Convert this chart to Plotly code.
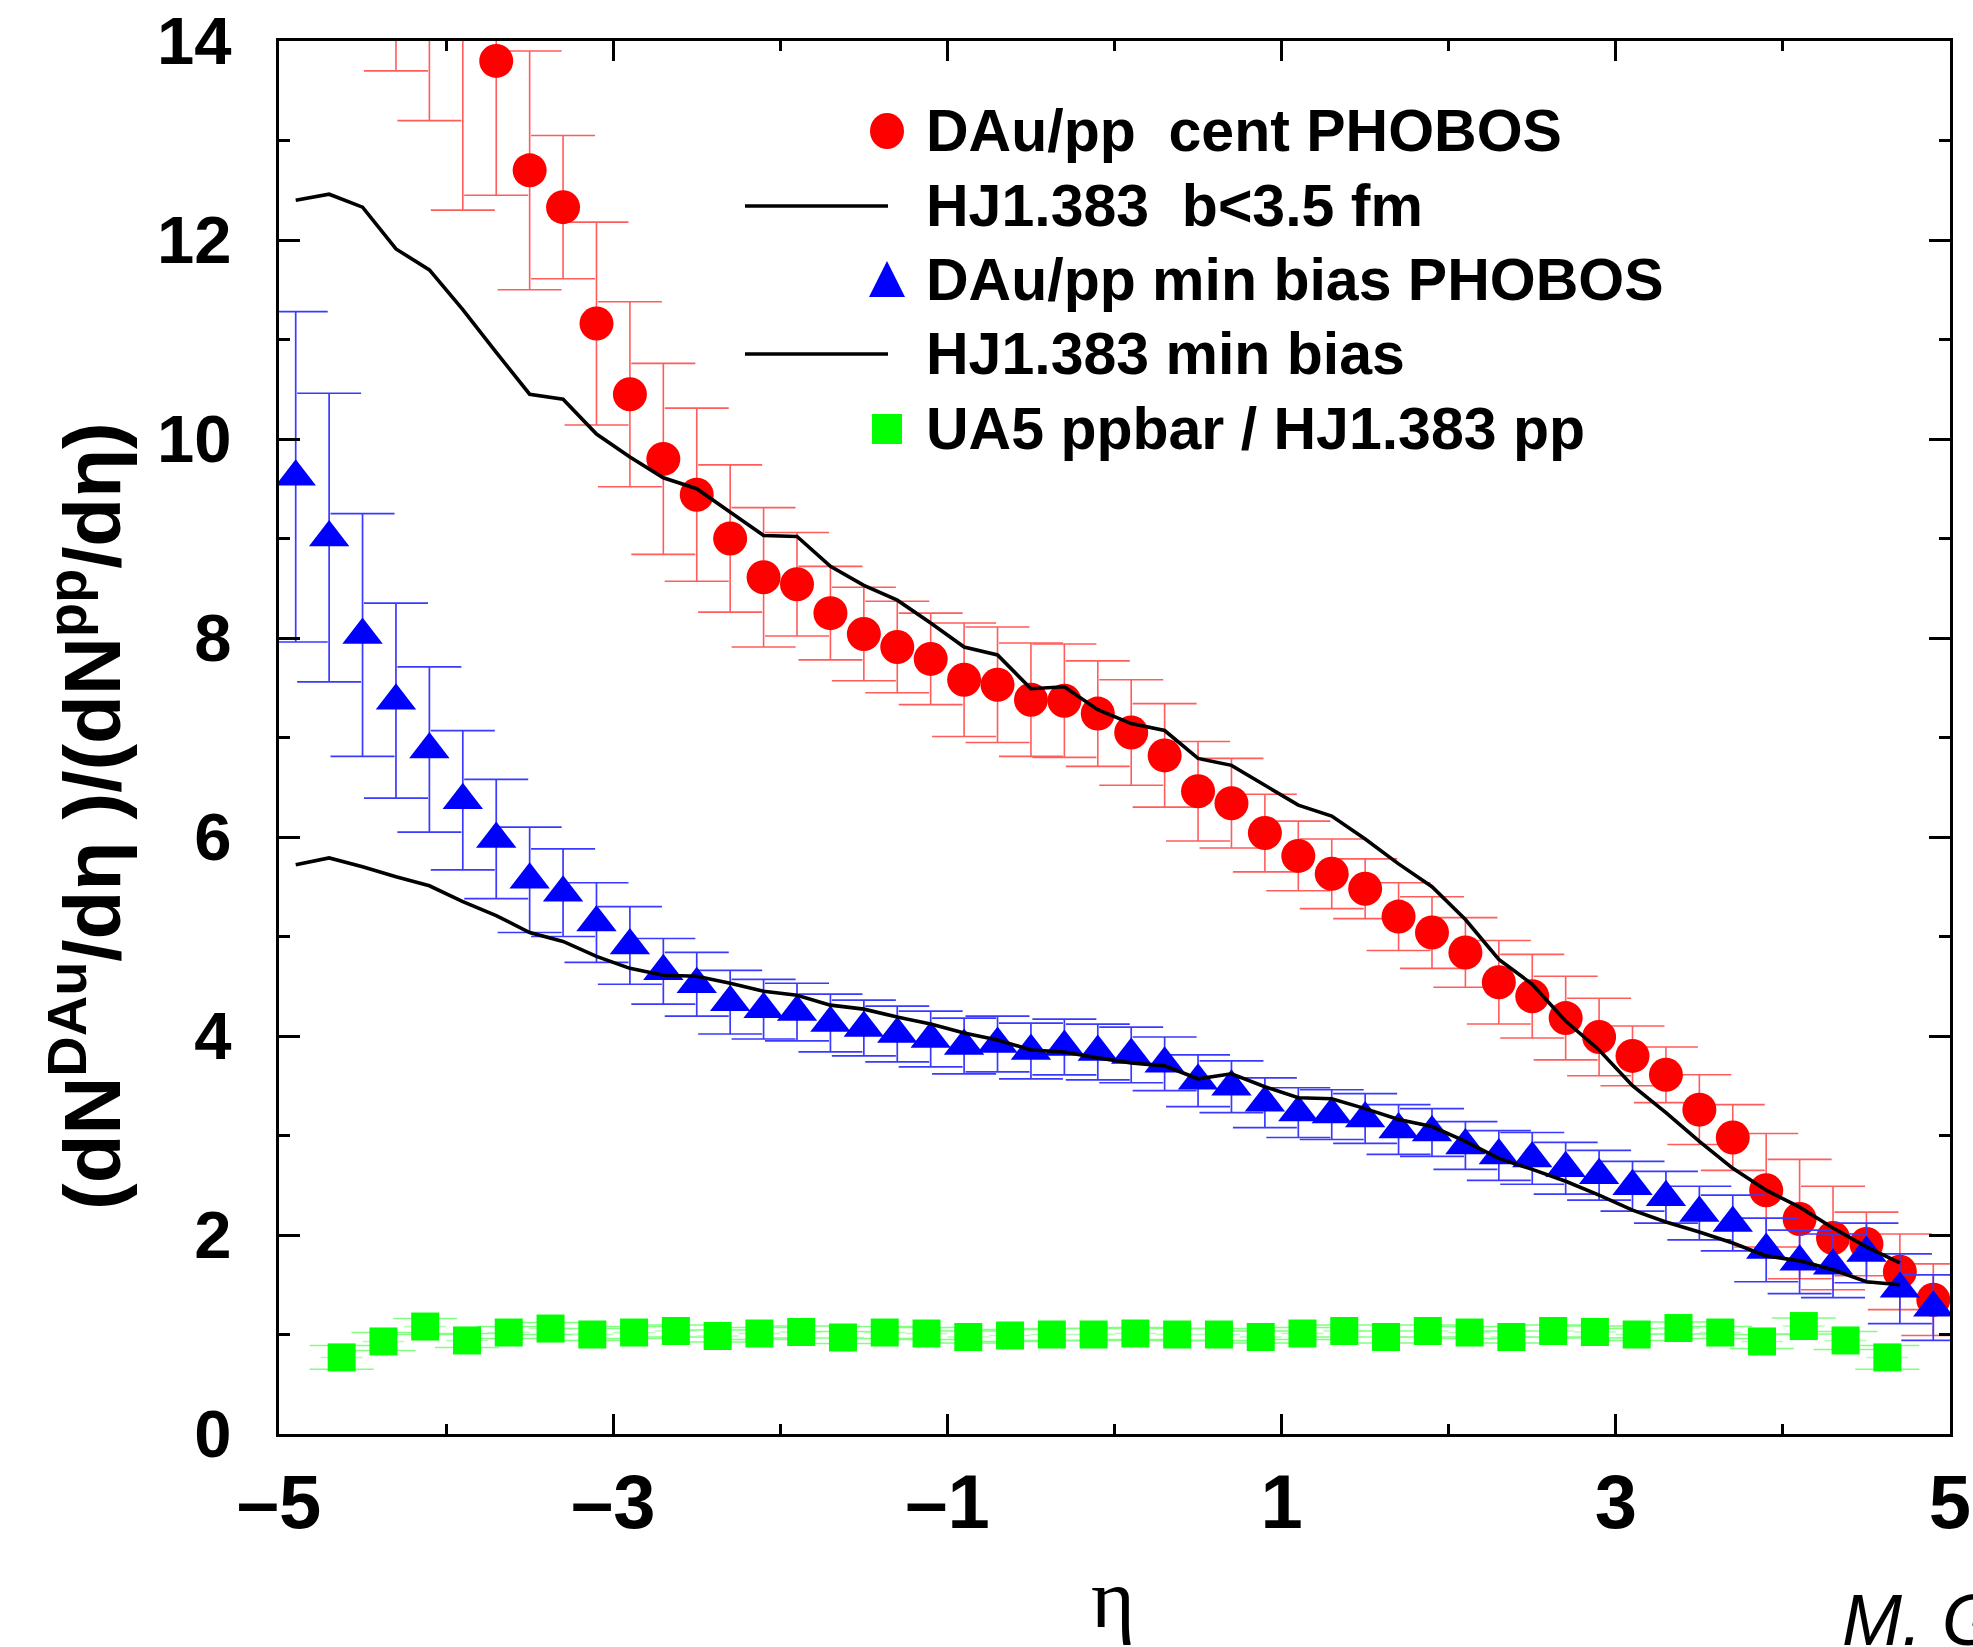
import plotly.graph_objects as go

# ---------------- data ----------------
# PHOBOS pseudorapidity bins
eta_phobos = [-4.9, -4.7, -4.5, -4.3, -4.1, -3.9, -3.7, -3.5, -3.3, -3.1,
              -2.9, -2.7, -2.5, -2.3, -2.1, -1.9, -1.7, -1.5, -1.3, -1.1,
              -0.9, -0.7, -0.5, -0.3, -0.1, 0.1, 0.3, 0.5, 0.7, 0.9,
              1.1, 1.3, 1.5, 1.7, 1.9, 2.1, 2.3, 2.5, 2.7, 2.9,
              3.1, 3.3, 3.5, 3.7, 3.9, 4.1, 4.3, 4.5, 4.7, 4.9]

# central d+Au / pp ratio
dau_cent = [17.6, 17.0, 16.3, 15.3, 14.7, 14.4, 13.80, 12.70, 12.33, 11.16,
            10.45, 9.80, 9.44, 9.00, 8.61, 8.54, 8.25, 8.04, 7.91, 7.79,
            7.58, 7.53, 7.38, 7.37, 7.24, 7.05, 6.82, 6.46, 6.34, 6.04,
            5.81, 5.63, 5.48, 5.20, 5.04, 4.84, 4.54, 4.40, 4.18, 3.99,
            3.80, 3.61, 3.26, 2.98, 2.45, 2.16, 1.97, 1.91, 1.63, 1.35]
dau_cent_err = [1.9, 1.8, 1.7, 1.6, 1.5, 2.1, 1.35, 1.20, 0.72, 1.02,
                0.93, 0.96, 0.87, 0.74, 0.70, 0.52, 0.47, 0.47, 0.46, 0.46,
                0.57, 0.58, 0.57, 0.57, 0.53, 0.53, 0.52, 0.50, 0.45, 0.39,
                0.35, 0.35, 0.30, 0.34, 0.36, 0.35, 0.42, 0.42, 0.42, 0.39,
                0.30, 0.28, 0.35, 0.33, 0.57, 0.60, 0.52, 0.32, 0.38, 0.36]

# minimum-bias d+Au / pp ratio
dau_mb = [9.62, 9.01, 8.03, 7.37, 6.88, 6.37, 5.98, 5.57, 5.44, 5.14,
          4.91, 4.65, 4.52, 4.34, 4.27, 4.24, 4.13, 4.08, 4.02, 3.97,
          3.90, 3.92, 3.85, 3.89, 3.84, 3.81, 3.72, 3.55, 3.49, 3.33,
          3.23, 3.21, 3.17, 3.06, 3.03, 2.90, 2.80, 2.77, 2.67, 2.60,
          2.49, 2.38, 2.22, 2.12, 1.85, 1.73, 1.69, 1.82, 1.46, 1.27]
dau_mb_err = [1.66, 1.45, 1.22, 0.98, 0.83, 0.70, 0.60, 0.53, 0.44, 0.40,
              0.39, 0.33, 0.32, 0.32, 0.30, 0.29, 0.29, 0.28, 0.28, 0.28,
              0.28, 0.28, 0.28, 0.28, 0.28, 0.28, 0.27, 0.26, 0.26, 0.25,
              0.25, 0.25, 0.25, 0.25, 0.24, 0.24, 0.25, 0.26, 0.26, 0.25,
              0.25, 0.26, 0.27, 0.28, 0.32, 0.32, 0.32, 0.30, 0.35, 0.33]

# HIJING 1.383 curves
eta_hj = [-4.9, -4.7, -4.5, -4.3, -4.1, -3.9, -3.7, -3.5, -3.3, -3.1,
          -2.9, -2.7, -2.5, -2.3, -2.1, -1.9, -1.7, -1.5, -1.3, -1.1,
          -0.9, -0.7, -0.5, -0.3, -0.1, 0.1, 0.3, 0.5, 0.7, 0.9,
          1.1, 1.3, 1.5, 1.7, 1.9, 2.1, 2.3, 2.5, 2.7, 2.9,
          3.1, 3.3, 3.5, 3.7, 3.9, 4.1, 4.3, 4.5, 4.7]
hj_central = [12.40, 12.46, 12.33, 11.91, 11.70, 11.30, 10.87, 10.45, 10.40, 10.05,
              9.82, 9.61, 9.50, 9.27, 9.03, 9.02, 8.72, 8.53, 8.38, 8.15,
              7.91, 7.83, 7.49, 7.51, 7.28, 7.14, 7.07, 6.79, 6.72, 6.52,
              6.32, 6.21, 5.98, 5.73, 5.50, 5.17, 4.77, 4.52, 4.15, 3.86,
              3.50, 3.23, 2.94, 2.67, 2.45, 2.28, 2.07, 1.88, 1.72]
hj_minbias = [5.72, 5.79, 5.70, 5.60, 5.51, 5.35, 5.21, 5.04, 4.95, 4.80,
              4.68, 4.61, 4.60, 4.53, 4.45, 4.41, 4.31, 4.27, 4.19, 4.12,
              4.03, 3.96, 3.86, 3.84, 3.78, 3.73, 3.70, 3.57, 3.62, 3.49,
              3.38, 3.37, 3.27, 3.16, 3.09, 2.94, 2.77, 2.66, 2.54, 2.40,
              2.25, 2.13, 2.03, 1.92, 1.79, 1.74, 1.65, 1.53, 1.50]

# UA5 ppbar / HIJING pp (bins of width 0.25)
eta_ua5 = [-4.625, -4.375, -4.125, -3.875, -3.625, -3.375, -3.125, -2.875, -2.625, -2.375,
           -2.125, -1.875, -1.625, -1.375, -1.125, -0.875, -0.625, -0.375, -0.125,
           0.125, 0.375, 0.625, 0.875, 1.125, 1.375, 1.625, 1.875, 2.125, 2.375,
           2.625, 2.875, 3.125, 3.375, 3.625, 3.875, 4.125, 4.375, 4.625]
ua5_ratio = [0.77, 0.93, 1.08, 0.94, 1.02, 1.06, 1.00, 1.02, 1.035, 0.985,
             1.01, 1.025, 0.97, 1.02, 1.01, 0.975, 0.99, 1.00, 1.00,
             1.01, 1.00, 1.00, 0.975, 1.01, 1.035, 0.975, 1.035, 1.02, 0.975,
             1.035, 1.025, 1.00, 1.065, 1.02, 0.93, 1.085, 0.94, 0.77]
ua5_err = [0.12, 0.09, 0.08, 0.07, 0.06, 0.06, 0.06, 0.06, 0.06, 0.06,
           0.06, 0.06, 0.06, 0.06, 0.06, 0.06, 0.06, 0.06, 0.06,
           0.06, 0.06, 0.06, 0.06, 0.06, 0.06, 0.06, 0.06, 0.06, 0.06,
           0.06, 0.06, 0.06, 0.06, 0.06, 0.07, 0.08, 0.09, 0.12]
ua5_halfbin = [0.125] * len(eta_ua5)

# axis ticks
x_major = [-5, -3, -1, 1, 3, 5]
x_labels = ["\u20135", "\u20133", "\u20131", "1", "3", "5"]
x_minor = [-4, -2, 0, 2, 4]
y_major = [0, 2, 4, 6, 8, 10, 12, 14]
y_minor = [1, 3, 5, 7, 9, 11, 13]

legend_labels = ["DAu/pp\u00a0 cent PHOBOS",
                 "HJ1.383\u00a0 b&lt;3.5 fm",
                 "DAu/pp min bias PHOBOS",
                 "HJ1.383 min bias",
                 "UA5 ppbar / HJ1.383 pp"]

# ---------------- layout geometry (pixels) ----------------
W, H = 1973, 1647
L, R, T, B = 279, 1950, 41, 1434

def fx(p):
    return (p - L) / (R - L)

def fy(p):
    return (B - p) / (B - T)

SANS = "Liberation Sans"
RED, BLUE, GREEN = "#ff0000", "#0000ff", "#00ff00"

fig = go.Figure()

fig.add_trace(go.Scatter(
    x=eta_ua5, y=ua5_ratio, mode="markers", showlegend=False,
    marker=dict(symbol="square", size=28, color=GREEN),
    error_y=dict(type="data", array=ua5_err, color="#80ff80", thickness=1.5, width=32),
    error_x=dict(type="data", array=ua5_halfbin, color="#b0ffb0", thickness=1.5, width=0),
))
fig.add_trace(go.Scatter(
    x=eta_phobos, y=dau_cent, mode="markers", showlegend=False,
    marker=dict(symbol="circle", size=34, color=RED),
    error_y=dict(type="data", array=dau_cent_err, color="#ff5c5c", thickness=1.6, width=32),
))
fig.add_trace(go.Scatter(
    x=eta_phobos, y=dau_mb, mode="markers", showlegend=False,
    marker=dict(symbol="triangle-up", size=35, color=BLUE),
    error_y=dict(type="data", array=dau_mb_err, color="#3a3aff", thickness=1.7, width=32),
))
fig.add_trace(go.Scatter(
    x=eta_hj, y=hj_central, mode="lines", showlegend=False,
    line=dict(color="black", width=3.6),
))
fig.add_trace(go.Scatter(
    x=eta_hj, y=hj_minbias, mode="lines", showlegend=False,
    line=dict(color="black", width=3.6),
))

# ---------------- hand-placed key ----------------
key_x = 887          # symbol centre
line_x0, line_x1 = 745, 888
text_x = 924
rows = [131, 206, 280, 354, 429]

shapes = []
shapes.append(dict(type="circle", xref="paper", yref="paper",
                   xsizemode="pixel", ysizemode="pixel",
                   xanchor=fx(key_x), yanchor=fy(rows[0]),
                   x0=-17, x1=17, y0=-18, y1=18,
                   fillcolor=RED, line=dict(width=0)))
for r in (rows[1], rows[3]):
    shapes.append(dict(type="line", xref="paper", yref="paper",
                       x0=fx(line_x0), x1=fx(line_x1), y0=fy(r), y1=fy(r),
                       line=dict(color="black", width=3.6)))
shapes.append(dict(type="path", xref="paper", yref="paper",
                   xsizemode="pixel", ysizemode="pixel",
                   xanchor=fx(key_x), yanchor=fy(rows[2]),
                   path="M -18,-17 L 18,-17 L 0,19 Z",
                   fillcolor=BLUE, line=dict(width=0)))
shapes.append(dict(type="rect", xref="paper", yref="paper",
                   xsizemode="pixel", ysizemode="pixel",
                   xanchor=fx(key_x), yanchor=fy(rows[4]),
                   x0=-15, x1=15, y0=-15, y1=15,
                   fillcolor=GREEN, line=dict(width=0)))

annotations = []
for lab, r in zip(legend_labels, rows):
    annotations.append(dict(
        text=lab, xref="paper", yref="paper", x=fx(text_x), y=fy(r),
        xanchor="left", yanchor="middle", showarrow=False,
        font=dict(family=SANS, size=59, color="black", weight="bold")))

# y-axis title
annotations.append(dict(
    text="(dN<sup>DAu</sup>/d\u03b7 )/(dN<sup>pp</sup>/d\u03b7)",
    xref="paper", yref="paper", x=fx(86), y=fy(816),
    xanchor="center", yanchor="middle", textangle=-90, showarrow=False,
    font=dict(family=SANS, size=80, color="black", weight="bold")))

# x-axis title
annotations.append(dict(
    text="\u03b7", xref="paper", yref="paper", x=fx(1113), y=fy(1598),
    xanchor="center", yanchor="middle", showarrow=False,
    font=dict(family="Liberation Serif", size=84, color="black")))

# signature in the corner
annotations.append(dict(
    text="M. G", xref="paper", yref="paper", x=fx(1840), y=fy(1620),
    xanchor="left", yanchor="middle", showarrow=False,
    font=dict(family=SANS, size=72, color="black", style="italic")))

axis_common = dict(
    ticks="inside", tickcolor="black", tickwidth=2.5,
    showline=True, linewidth=3, linecolor="black", mirror="ticks",
    showgrid=False, zeroline=False,
)

fig.update_layout(
    width=W, height=H,
    margin=dict(l=L, r=W - R, t=T, b=H - B, autoexpand=False),
    paper_bgcolor="white", plot_bgcolor="white",
    showlegend=False,
    xaxis=dict(range=[-5, 5], tickmode="array", tickvals=x_major, ticktext=x_labels,
               ticklen=20, ticklabelstandoff=0,
               tickfont=dict(family=SANS, size=76, color="black", weight="bold"),
               minor=dict(tickmode="array", tickvals=x_minor, ticks="inside",
                          ticklen=10, tickwidth=2.5, tickcolor="black", showgrid=False),
               **axis_common),
    yaxis=dict(range=[0, 14], tickmode="array", tickvals=y_major,
               ticktext=[str(v) for v in y_major],
               ticklen=21, ticklabelstandoff=31,
               tickfont=dict(family=SANS, size=67, color="black", weight="bold"),
               minor=dict(tickmode="array", tickvals=y_minor, ticks="inside",
                          ticklen=11, tickwidth=2.5, tickcolor="black", showgrid=False),
               **axis_common),
    shapes=shapes,
    annotations=annotations,
)

fig.write_html("out.html")
